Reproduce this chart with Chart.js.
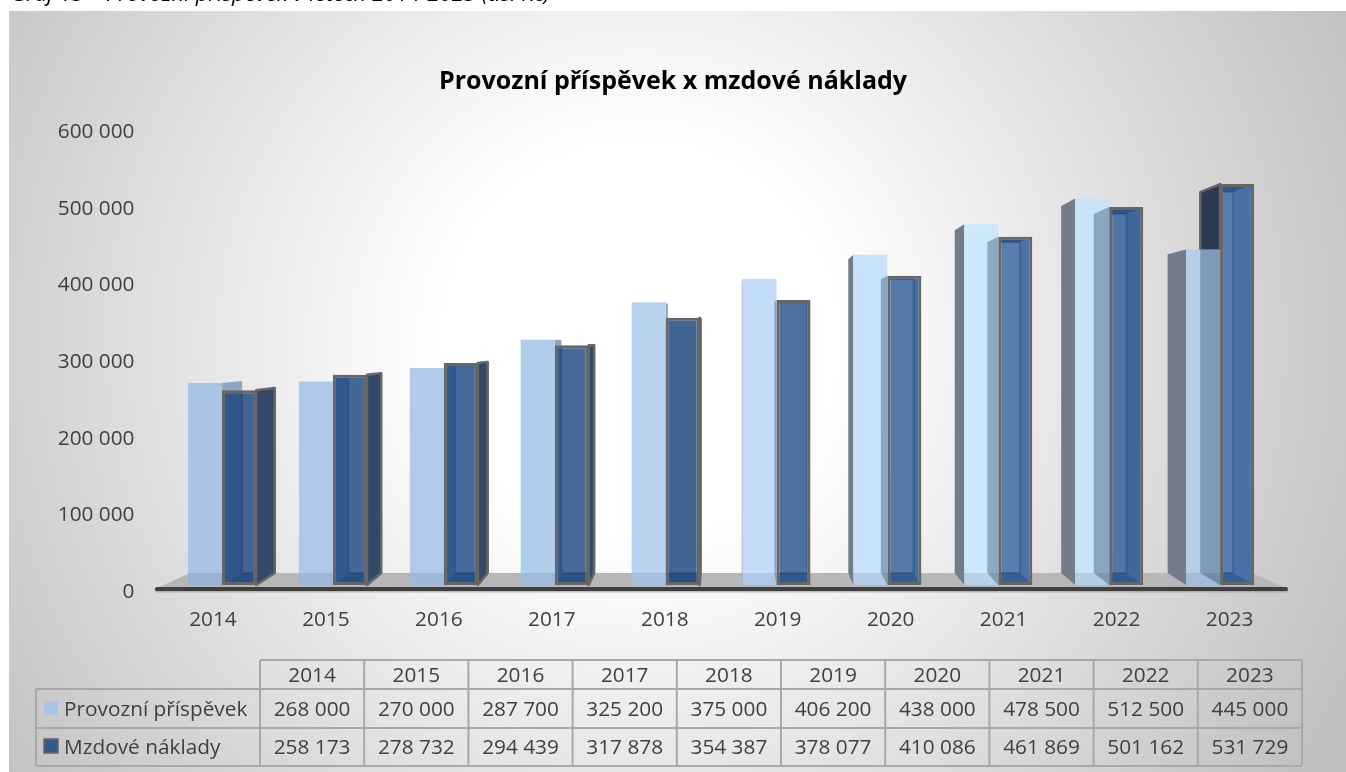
<!DOCTYPE html>
<html lang="cs">
<head>
<meta charset="utf-8">
<title>Provozní příspěvek x mzdové náklady</title>
<style>html,body{margin:0;padding:0;background:#fff;overflow:hidden}canvas{display:block}</style>
<script src="https://cdn.jsdelivr.net/npm/chart.js@4"></script>
</head>
<body>
<canvas id="c" width="1346" height="772"></canvas>
<script>
const caption = 'Graf 13 – Provozní příspěvek v letech 2014-2023 (tis. Kč)';
const chartTitle = 'Provozní příspěvek x mzdové náklady';
const years = [2014, 2015, 2016, 2017, 2018, 2019, 2020, 2021, 2022, 2023];
const provozniPrispevek = [268000, 270000, 287700, 325200, 375000, 406200, 438000, 478500, 512500, 445000];
const mzdoveNaklady = [258173, 278732, 294439, 317878, 354387, 378077, 410086, 461869, 501162, 531729];
const seriesNames = ['Provozní příspěvek', 'Mzdové náklady'];
const lightColors = ['#a9c4e4','#aec9e8','#b0cbe9','#b2cdec','#b8d3f0','#c2dcfa','#c8e2fb','#cde8fb','#c8e3f7','#b5cfeb'];
const darkColors = ['#2f5688','#315a8c','#335b8d','#345b8d','#2e5687','#3c6496','#466d9f','#4a72a4','#3f689c','#4872a6'];

const fmt = v => String(v).replace(/\B(?=(\d{3})+(?!\d))/g, ' ');
const FONT = '"Open Sans"';
const TEXT = '#404040';
const VX = 725, VY = 345, KX = 0.04, KY = 0.05;
const bx = x => x + (VX - x) * KX;
const by = y => y + (VY - y) * KY;
const poly = (ctx, pts) => { ctx.beginPath(); pts.forEach((p, i) => i ? ctx.lineTo(p[0], p[1]) : ctx.moveTo(p[0], p[1])); ctx.closePath(); };
const box = el => ({ x0: el.x - el.width / 2, x1: el.x + el.width / 2, y: el.y, b: el.base });

const scene = {
  id: 'scene',
  beforeDraw(chart) {
    const ctx = chart.ctx;
    ctx.save();
    ctx.fillStyle = '#000';
    ctx.font = `italic 22px ${FONT}`;
    ctx.textBaseline = 'alphabetic';
    ctx.fillText(caption, 11, 1);
    const g = ctx.createRadialGradient(640, 340, 0, 640, 340, 790);
    g.addColorStop(0, '#ffffff');
    g.addColorStop(0.25, '#ffffff');
    g.addColorStop(1, '#c0c0c0');
    ctx.fillStyle = g;
    ctx.fillRect(9, 11, 1337, 761);
    ctx.restore();
  },
  beforeDatasetsDraw(chart) {
    const ctx = chart.ctx;
    ctx.save();
    ctx.fillStyle = '#b7b7b7';
    poly(ctx, [[155, 589], [190, 573], [1252, 573], [1288, 589]]);
    ctx.fill();
    ctx.restore();
  },
  beforeDatasetDraw(chart, args) {
    const ctx = chart.ctx;
    ctx.save();
    if (args.index === 0) {
      chart.getDatasetMeta(0).data.forEach(el => {
        const r = box(el);
        const left = el.x > VX;
        const xf = left ? r.x0 : r.x1;
        ctx.fillStyle = left ? '#727d89' : '#8ea6c4';
        poly(ctx, [[xf, r.y], [xf, r.b], [bx(xf), by(r.b)], [bx(xf), by(r.y)]]);
        ctx.fill();
      });
    } else {
      const lights = chart.getDatasetMeta(0).data;
      chart.getDatasetMeta(1).data.forEach((el, i) => {
        const r = box(el);
        if (r.x0 <= VX) return;
        const pts = [[r.x0, r.y], [r.x0, r.b], [bx(r.x0), by(r.b)], [bx(r.x0), by(r.y)]];
        ctx.save();
        poly(ctx, pts); ctx.clip();
        ctx.fillStyle = '#2b3a50';
        ctx.fillRect(bx(r.x0) - 2, r.y - 20, 60, lights[i].y - r.y + 20);
        ctx.fillStyle = 'rgba(32,64,96,0.37)';
        ctx.fillRect(bx(r.x0) - 2, Math.max(lights[i].y, r.y - 20), 60, r.b - lights[i].y + 20);
        ctx.restore();
        if (r.y < lights[i].y) {
          ctx.save();
          ctx.beginPath(); ctx.rect(0, 0, 1346, lights[i].y); ctx.clip();
          ctx.strokeStyle = '#666'; ctx.lineWidth = 2.5; ctx.lineJoin = 'round';
          poly(ctx, pts); ctx.stroke();
          ctx.restore();
        }
      });
    }
    ctx.restore();
  },
  afterDatasetDraw(chart, args) {
    const ctx = chart.ctx;
    ctx.save();
    if (args.index === 0) {
      chart.getDatasetMeta(0).data.forEach(el => {
        const r = box(el);
        ctx.fillStyle = 'rgba(60,80,110,0.14)';
        ctx.fillRect(r.x0, by(r.b), r.x1 - r.x0, r.b - by(r.b));
      });
    } else {
      chart.getDatasetMeta(1).data.forEach(el => {
        const r = box(el);
        const b0 = bx(r.x0), b1 = bx(r.x1), ty = by(r.y), fy = by(r.b);
        if (r.x1 < VX) {
          const side = [[r.x1, r.y], [r.x1, r.b], [b1, fy], [b1, ty]];
          ctx.fillStyle = '#34496a';
          poly(ctx, side); ctx.fill();
          ctx.strokeStyle = '#666'; ctx.lineWidth = 2.5; ctx.lineJoin = 'round';
          poly(ctx, side); ctx.stroke();
        }
        ctx.save();
        ctx.beginPath();
        ctx.rect(r.x0 + 3, r.y + 3, r.x1 - r.x0 - 6, r.b - r.y - 6);
        ctx.clip();
        ctx.fillStyle = 'rgba(255,255,255,0.09)';
        ctx.fillRect(b0, ty, b1 - b0, fy - ty);
        ctx.fillStyle = 'rgba(25,55,110,0.45)';
        poly(ctx, [[r.x0, r.y], [r.x1, r.y], [b1, ty], [b0, ty]]); ctx.fill();
        ctx.fillStyle = 'rgba(25,70,130,0.4)';
        poly(ctx, [[r.x0, r.b], [r.x1, r.b], [b1, fy], [b0, fy]]); ctx.fill();
        ctx.strokeStyle = 'rgba(25,55,110,0.3)';
        ctx.lineWidth = 2;
        ctx.strokeRect(b0, ty, b1 - b0, fy - ty);
        ctx.restore();
      });
    }
    ctx.restore();
  },
  afterDatasetsDraw(chart) {
    const ctx = chart.ctx;
    ctx.save();
    ctx.lineCap = 'round';
    ctx.strokeStyle = 'rgba(150,150,150,0.6)';
    ctx.lineWidth = 5;
    ctx.beginPath(); ctx.moveTo(157, 590); ctx.lineTo(1286, 590); ctx.stroke();
    ctx.strokeStyle = '#3f3f3f';
    ctx.lineWidth = 4;
    ctx.beginPath(); ctx.moveTo(157, 589); ctx.lineTo(1286, 589); ctx.stroke();
    ctx.restore();
  },
  afterDraw(chart) {
    const ctx = chart.ctx;
    const L = 36, C0 = 260, CW = 104.2, R = 1302;
    const T = 660, H1 = 689, H2 = 728, B = 766;
    ctx.save();
    ctx.strokeStyle = '#a8a8a8';
    ctx.lineWidth = 2;
    ctx.beginPath();
    ctx.moveTo(C0, T); ctx.lineTo(R, T);
    ctx.moveTo(L, H1); ctx.lineTo(R, H1);
    ctx.moveTo(L, H2); ctx.lineTo(R, H2);
    ctx.moveTo(L, B); ctx.lineTo(R, B);
    ctx.moveTo(L, H1); ctx.lineTo(L, B);
    years.forEach((_, i) => { const x = C0 + CW * i; ctx.moveTo(x, T); ctx.lineTo(x, B); });
    ctx.moveTo(R, T); ctx.lineTo(R, B);
    ctx.stroke();
    ctx.fillStyle = TEXT;
    ctx.font = `20.8px ${FONT}`;
    ctx.textBaseline = 'middle';
    ctx.textAlign = 'center';
    years.forEach((y, i) => {
      const x = C0 + CW * (i + 0.5);
      ctx.fillText(String(y), x, 676.5);
      ctx.fillText(fmt(provozniPrispevek[i]), x, 710.5);
      ctx.fillText(fmt(mzdoveNaklady[i]), x, 748.5);
    });
    ctx.textAlign = 'left';
    ctx.fillText(seriesNames[0], 64, 710.5);
    ctx.fillText(seriesNames[1], 64, 748.5);
    ctx.fillStyle = '#a9c4e4';
    ctx.fillRect(44, 701, 14, 14);
    ctx.fillStyle = '#34598c';
    ctx.fillRect(44, 739, 14, 14);
    ctx.strokeStyle = '#666'; ctx.lineWidth = 1.5;
    ctx.strokeRect(44, 739, 14, 14);
    ctx.restore();
  }
};

new Chart(document.getElementById('c'), {
  type: 'bar',
  data: {
    labels: years,
    datasets: [
      { label: seriesNames[0], data: provozniPrispevek, xAxisID: 'xl', yAxisID: 'yb', order: 2, grouped: false,
        backgroundColor: lightColors, borderWidth: 0,
        barPercentage: 1, categoryPercentage: 0.307 },
      { label: seriesNames[1], data: mzdoveNaklady, xAxisID: 'xd', yAxisID: 'yb', order: 1, grouped: false,
        backgroundColor: darkColors, borderColor: '#666666', borderWidth: 3, borderSkipped: false,
        barPercentage: 1, categoryPercentage: 0.307 }
    ]
  },
  options: {
    responsive: false,
    animation: false,
    events: [],
    layout: { padding: 0 },
    plugins: {
      legend: { display: false },
      tooltip: { enabled: false },
      title: {
        display: true,
        text: chartTitle,
        color: '#000',
        font: { family: FONT, size: 25, weight: 'bold', lineHeight: 1.2 },
        padding: { top: 67, bottom: 35 }
      }
    },
    scales: {
      x: {
        type: 'category', axis: 'x', position: 'bottom', offset: true,
        labels: years.map(String),
        grid: { display: false, drawTicks: false },
        border: { display: false },
        ticks: { color: TEXT, font: { family: FONT, size: 20.8 }, padding: 16, maxRotation: 0, autoSkip: false },
        afterFit(s) { s.height = 180; }
      },
      y: {
        type: 'linear', axis: 'y', position: 'left', min: 0, max: 600000,
        grid: { display: false, drawTicks: false },
        border: { display: false },
        ticks: { stepSize: 100000, color: TEXT, font: { family: FONT, size: 20.8 }, padding: 22, callback: v => fmt(v) },
        afterFit(s) { s.width = 156.5; }
      },
      rightGap: {
        type: 'linear', axis: 'y', position: 'right', min: 0, max: 1,
        grid: { display: false, drawTicks: false },
        border: { display: false },
        ticks: { display: false },
        afterFit(s) { s.width = 60; }
      },
      xl: { type: 'linear', axis: 'x', display: false, offset: false, min: 2013.5623, max: 2023.7473, grid: { display: false } },
      xd: { type: 'linear', axis: 'x', display: false, offset: false, min: 2013.2561, max: 2023.4411, grid: { display: false } },
      yb: { type: 'linear', axis: 'y', display: false, min: -9284, max: 600796, grid: { display: false } }
    }
  },
  plugins: [scene]
});
</script>
</body>
</html>
